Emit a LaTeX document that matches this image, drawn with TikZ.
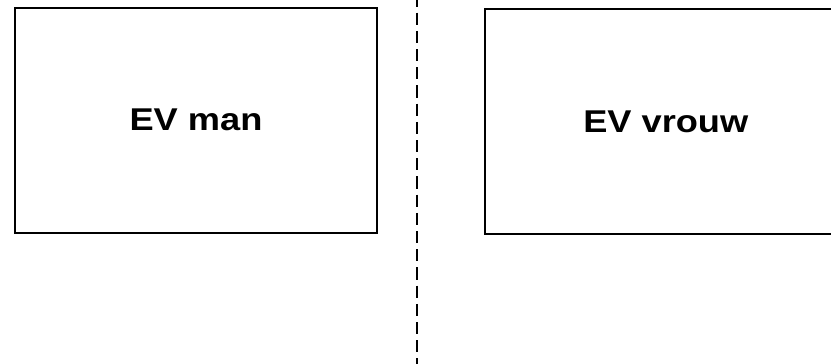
\documentclass[tikz,border=0pt]{standalone}
\usepackage{fontspec}
\setmainfont{Liberation Sans}
\usepackage{graphicx}
\tikzset{
  evbox/.style={draw=black, line width=2pt, minimum width=362pt, minimum height=225pt, inner sep=0pt,
    font=\fontsize{31.5pt}{34pt}\selectfont\bfseries},
  divider/.style={draw=black, line width=2pt, dash pattern=on 12.2pt off 6pt, dash phase=5.6pt}
}
\begin{document}
\begin{tikzpicture}[x=1pt,y=-1pt]
\useasboundingbox (0,0) rectangle (831,364);
\clip (0,0) rectangle (831,364);
\fill[white] (0,0) rectangle (831,364);
\node[evbox] (man) at (196,120) {\scalebox{1.15}[1]{EV man}};
\node[evbox] (vrouw) at (665.8,121.9) {\scalebox{1.15}[1]{EV vrouw}};
\coordinate (top) at (417,0);
\coordinate (bottom) at (417,364);
\draw[divider] (top) -- (bottom);
\end{tikzpicture}
\end{document}
